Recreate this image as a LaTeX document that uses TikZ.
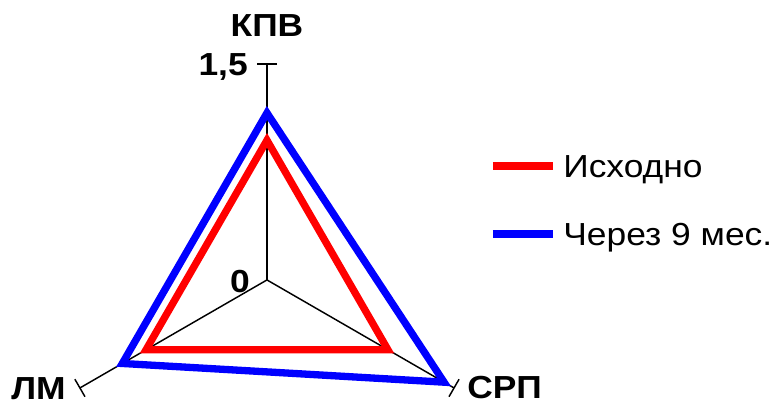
\documentclass[tikz,border=0pt]{standalone}
\usepackage{fontspec}
\setmainfont{Liberation Sans}[FakeStretch=1.11]
\usepackage{xcolor}
\usepackage{tikz}

\tikzset{
    axis/.style={line width=1.1pt, black},
    ishod/.style={line width=5.5pt, red},
    cherez/.style={line width=5.5pt, blue},
    lbl/.style={inner sep=0pt, font=\fontsize{24}{28}\selectfont\bfseries},
    legtext/.style={inner sep=0pt, anchor=base west, font=\fontsize{24}{28}\selectfont}
}

\begin{document}
\begin{tikzpicture}[x=3.81cm, y=3.81cm]
                \useasboundingbox (-1.854,-0.861) rectangle (3.507,1.944);
                \coordinate (O) at (0,0);
                \foreach \a/\n in {90/kpv, 210/lm, 330/srp} {
                    \coordinate (\n) at (\a:1.5);
                    \draw[axis] (O) -- (\n);
                    \draw[axis, shift={(\n)}, rotate=\a] (0,-0.07) -- (0,0.07);
                }
                \draw[ishod] (90:0.97) -- (210:0.97) -- (330:0.97) -- cycle;
                \draw[cherez] (90:1.16) -- (210:1.16) -- (330:1.42) -- cycle;
                \node[lbl, anchor=base] (kpvlbl) at (0,1.69) {КПВ};
                \node[lbl, anchor=base east] (max) at (-0.132,1.42) {1,5};
                \node[lbl, anchor=base east] (min) at (-0.118,-0.087) {0};
                \node[lbl, anchor=base east] (lmlbl) at (-1.396,-0.832) {ЛМ};
                \node[lbl, anchor=base west] (srplbl) at (1.389,-0.823) {СРП};
                % legend
                \coordinate (r1) at (1.569,0.792);
                \coordinate (r2) at (1.986,0.792);
                \coordinate (b1) at (1.569,0.319);
                \coordinate (b2) at (1.986,0.319);
                \draw[ishod] (r1) -- (r2);
                \draw[cherez] (b1) -- (b2);
                \node[legtext] (leg1) at (2.056,0.712) {Исходно};
                \node[legtext] (leg2) at (2.056,0.239) {Через 9 мес.};
            \end{tikzpicture}
\end{document}
